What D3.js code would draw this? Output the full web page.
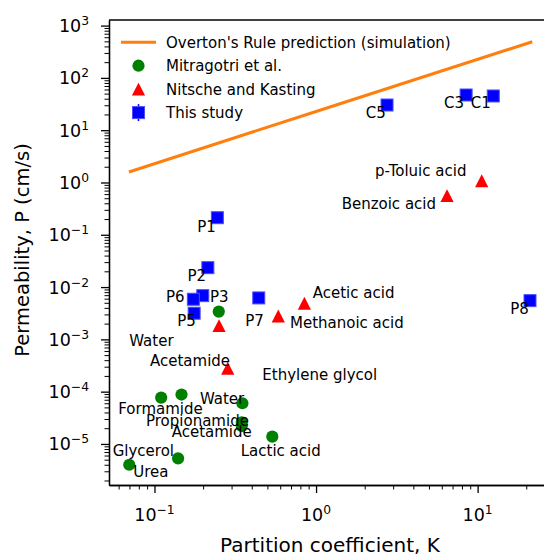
<!DOCTYPE html>
<html>
<head>
<meta charset="utf-8">
<title>Permeability vs partition coefficient</title>
<script src="https://d3js.org/d3.v7.min.js"></script>
<style>
  body {margin: 0; background: white;}
  svg text {font-family: 'DejaVu Sans', sans-serif; fill: black;}
</style>
</head>
<body>
<svg id="chart" width="544" height="554"></svg>
<script>
// Overton's rule prediction (simulation)
var overtonK = [0.0695, 1, 21.8];
var overtonP = [1.59, 22.8, 492];

// Mitragotri et al.
var mitraK = [0.25, 0.11, 0.147, 0.35, 0.347, 0.347, 0.536, 0.140, 0.0698];
var mitraP = [0.0034, 7.7e-5, 8.8e-5, 6.0e-5, 2.6e-5, 2.2e-5, 1.38e-5, 5.3e-6, 4.0e-6];

// Nitsche and Kasting
var nkK = [0.251, 0.284, 0.584, 0.847, 6.47, 10.6];
var nkP = [0.00183, 2.8e-4, 0.0028, 0.0049, 0.56, 1.08];

// This study
var studyNames = ["P1", "P2", "P3", "P5", "P6", "P7", "P8", "C1", "C3", "C5"];
var studyK = [0.245, 0.214, 0.199, 0.176, 0.174, 0.442, 21.1, 12.5, 8.49, 2.75];
var studyP = [0.212, 0.0235, 0.00685, 0.00316, 0.00585, 0.0062, 0.0055, 45.1, 47.1, 30.3];

// text annotations (left / baseline in data coords)
var labelText = ["C5", "C3", "C1", "p-Toluic acid", "Benzoic acid", "Acetic acid", "Methanoic acid", "P8",
                 "P1", "P2", "P6", "P3", "P5", "P7", "Water", "Acetamide", "Ethylene glycol", "Formamide",
                 "Water", "Propionamide", "Acetamide", "Lactic acid", "Glycerol", "Urea"];
var labelK = [2.03, 6.20, 9.08, 2.32, 1.44, 0.954, 0.690, 15.9,
              0.184, 0.160, 0.1178, 0.2207, 0.1384, 0.365, 0.0698, 0.0938, 0.465, 0.0597,
              0.191, 0.0886, 0.1278, 0.342, 0.0551, 0.0739];
var labelP = [16.9, 26.2, 26.2, 1.33, 0.311, 0.00611, 0.00163, 0.00306,
              0.1146, 0.01325, 0.00512, 0.00512, 0.0018, 0.00183, 7.58e-4, 3.14e-4, 1.67e-4, 3.75e-5,
              5.82e-5, 2.24e-5, 1.38e-5, 5.9e-6, 5.9e-6, 2.31e-6];

var xTicks = [0.1, 1, 10];
var xTickExp = ["\u22121", "0", "1"];
var yTicks = [1e-5, 1e-4, 1e-3, 1e-2, 1e-1, 1, 10, 100, 1000];
var yTickExp = ["\u22125", "\u22124", "\u22123", "\u22122", "\u22121", "0", "1", "2", "3"];

var legendNames = ["Overton's Rule prediction (simulation)", "Mitragotri et al.", "Nitsche and Kasting", "This study"];

var svg = d3.select("#chart");
var plotL = 109, plotT = 20, plotB = 485, plotR = 557;

var x = d3.scaleLog().domain([0.0523, 31]).range([plotL, plotR]);
var y = d3.scaleLog().domain([1.64e-6, 1280]).range([plotB, plotT]);

function minors(dom) {
  var out = [];
  for (var e = -7; e <= 4; e++) {
    for (var m = 2; m <= 9; m++) {
      var v = m * Math.pow(10, e);
      if (v >= dom[0] && v <= dom[1]) out.push(v);
    }
  }
  return out;
}

// axes (ticks)
var gx = svg.append("g").attr("transform", "translate(0," + plotB + ")");
gx.call(d3.axisBottom(x).tickValues(minors(x.domain())).tickSize(4.5).tickSizeOuter(0).tickFormat(""));
gx.append("g").call(d3.axisBottom(x).tickValues(xTicks).tickSize(8).tickSizeOuter(0).tickFormat(""));
var gy = svg.append("g").attr("transform", "translate(" + plotL + ",0)");
gy.call(d3.axisLeft(y).tickValues(minors(y.domain())).tickSize(4.5).tickSizeOuter(0).tickFormat(""));
gy.append("g").call(d3.axisLeft(y).tickValues(yTicks).tickSize(8).tickSizeOuter(0).tickFormat(""));
svg.selectAll(".tick line").attr("stroke", "black").attr("stroke-width", 1);
svg.selectAll("g g .tick line").attr("stroke-width", 1.3);
svg.selectAll(".domain").attr("stroke", "black").attr("stroke-width", 1.3);
svg.append("line").attr("x1", plotL).attr("x2", plotR).attr("y1", plotT).attr("y2", plotT)
  .attr("stroke", "black").attr("stroke-width", 1.3);

// tick labels
function powLabel(sel, exp) {
  sel.append("tspan").text("10");
  sel.append("tspan").attr("dy", -7).style("font-size", "12.3px").text(exp);
}
xTicks.forEach(function (v, i) {
  svg.append("text").attr("x", x(v)).attr("y", 521).attr("text-anchor", "middle")
    .style("font-size", "17.5px").call(powLabel, xTickExp[i]);
});
yTicks.forEach(function (v, i) {
  svg.append("text").attr("x", 89).attr("y", y(v) + 6.5).attr("text-anchor", "end")
    .style("font-size", "17.5px").call(powLabel, yTickExp[i]);
});

// axis titles
svg.append("text").attr("x", 330).attr("y", 552).attr("text-anchor", "middle")
  .style("font-size", "20px").text("Partition coefficient, K");
svg.append("text").attr("transform", "translate(28.5,250) rotate(-90)").attr("text-anchor", "middle")
  .style("font-size", "19.5px").text("Permeability, P (cm/s)");

// marker helpers
function square(g, cx, cy) {
  g.append("rect").attr("x", cx - 6).attr("y", cy - 6).attr("width", 12).attr("height", 12)
    .attr("fill", "blue").attr("stroke", "#4d4dff").attr("stroke-width", 1);
}
function triangle(g, cx, cy) {
  g.append("path").attr("d", "M" + cx + "," + (cy - 6.4) + "L" + (cx + 6.6) + "," + (cy + 6.4) +
    "L" + (cx - 6.6) + "," + (cy + 6.4) + "Z").attr("fill", "red");
}
function dot(g, cx, cy) {
  g.append("circle").attr("cx", cx).attr("cy", cy).attr("r", 6.1).attr("fill", "green");
}

// Overton line
var line = d3.line().x(function (d, i) { return x(overtonK[i]); }).y(function (d) { return y(d); });
svg.append("path").attr("d", line(overtonP)).attr("fill", "none")
  .attr("stroke", "#ff7f0e").attr("stroke-width", 3);

var marks = svg.append("g");
mitraK.forEach(function (k, i) { dot(marks, x(k), y(mitraP[i])); });
nkK.forEach(function (k, i) { triangle(marks, x(k), y(nkP[i])); });
studyK.forEach(function (k, i) { square(marks, x(k), y(studyP[i])); });

// annotations
labelText.forEach(function (t, i) {
  svg.append("text").attr("x", x(labelK[i])).attr("y", y(labelP[i]))
    .style("font-size", "15px").text(t);
});

// legend
var leg = svg.append("g");
var rowY = [42.2, 65.7, 89.2, 112.6];
leg.append("line").attr("x1", 121).attr("x2", 156).attr("y1", rowY[0]).attr("y2", rowY[0])
  .attr("stroke", "#ff7f0e").attr("stroke-width", 3);
dot(leg, 138.5, rowY[1]);
triangle(leg, 138.5, rowY[2]);
leg.append("line").attr("x1", 138.5).attr("x2", 138.5).attr("y1", rowY[3] - 8.5).attr("y2", rowY[3] + 8.5)
  .attr("stroke", "blue").attr("stroke-width", 1.5);
square(leg, 138.5, rowY[3]);
legendNames.forEach(function (n, i) {
  leg.append("text").attr("x", 166).attr("y", rowY[i] + 5.3).style("font-size", "15px").text(n);
});
</script>
</body>
</html>
